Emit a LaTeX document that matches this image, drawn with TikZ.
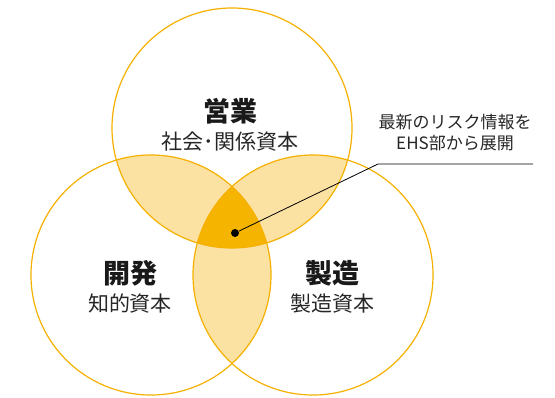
\documentclass[tikz,border=0pt]{standalone}
\usepackage{fontspec}
\setmainfont{Noto Sans CJK JP}
\usetikzlibrary{positioning}
\definecolor{ringcol}{HTML}{F5B000}
\definecolor{pairfill}{HTML}{FCE2A2}
\definecolor{corefill}{HTML}{F5B400}
\tikzset{
  ring/.style={draw=ringcol,line width=1.2pt},
  title/.style={anchor=base,inner sep=0pt,font=\fontsize{27}{29}\selectfont\bfseries,text=black!90},
  sub/.style={anchor=base,inner sep=0pt,font=\fontsize{21}{23}\selectfont,text=black!85},
  note/.style={font=\fontsize{17}{21}\selectfont,align=center,text=black!85},
  dotnode/.style={circle,fill=black,inner sep=0pt,minimum size=8pt}
}
\begin{document}
\begin{tikzpicture}[x=1pt,y=-1pt]
 		\useasboundingbox (0,0) rectangle (555,397);
 		\coordinate (sales) at (232,128);
 		\coordinate (dev) at (151,275);
 		\coordinate (mfg) at (313,275);
 		% pairwise overlaps
 		\begin{scope}
 				\clip (sales) circle (120pt);
 				\fill[pairfill] (dev) circle (120pt);
 				\fill[pairfill] (mfg) circle (120pt);
 		\end{scope}
 		\begin{scope}
 				\clip (dev) circle (120pt);
 				\fill[pairfill] (mfg) circle (120pt);
 		\end{scope}
 		% common part
 		\begin{scope}
 				\clip (sales) circle (120pt);
 				\clip (dev) circle (120pt);
 				\fill[corefill] (mfg) circle (120pt);
 		\end{scope}
 		\foreach \c in {sales,dev,mfg}
 				{\draw[ring] (\c) circle (120pt);}
 		\foreach \n/\x/\y/\t/\s in {salesname/230/121/営業/社会･関係資本, devname/130/283/開発/知的資本, mfgname/332/283/製造/製造資本}
 				{\node[title] (\n) at (\x,\y) {\t};
 				\node[sub] (\n sub) at (\x,\y+28.5) {\s};}
 		\node[dotnode] (dot) at (235,233) {};
 		\coordinate (bend) at (378,164);
 		\coordinate (lineend) at (533,164);
 		\node[note] (notetext) at (455,133) {最新のリスク情報を\\EHS部から展開};
 		\draw[line width=0.8pt] (dot) -- (bend) -- (lineend);
\end{tikzpicture}
\end{document}
